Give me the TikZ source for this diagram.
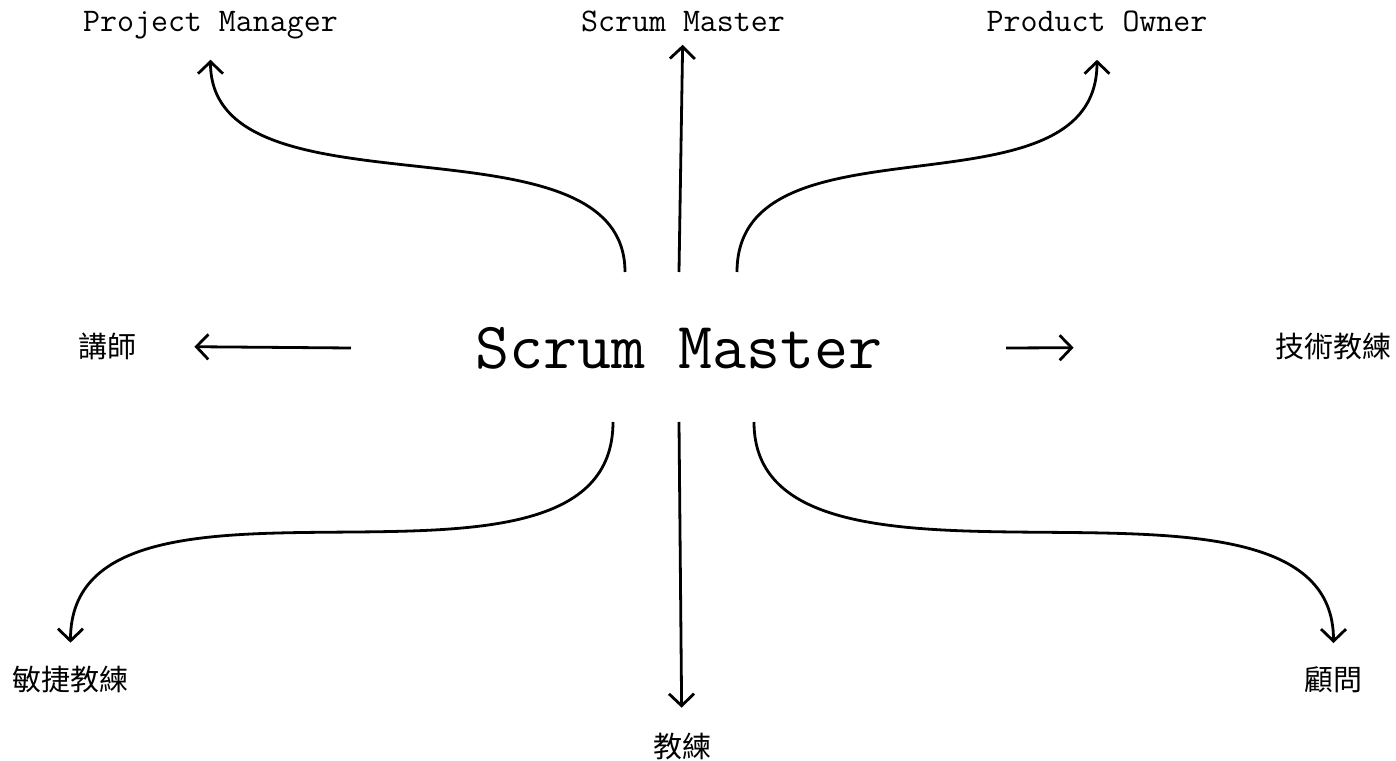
\documentclass[tikz,border=0pt]{standalone}
\usepackage{fontspec}
\newfontfamily\cjk{Noto Sans CJK TC}
\usetikzlibrary{arrows.meta}

\begin{document}
\begin{tikzpicture}[x=1pt,y=1pt,line width=2.8pt,>={Straight Barb[length=12pt,width=25pt]},
	role node/.style={inner sep=0pt, anchor=base, font=\fontsize{33}{33}\selectfont\ttfamily},
	zh node/.style={inner sep=0pt, font=\fontsize{29}{29}\selectfont\cjk}]
				\useasboundingbox (-679,-412) rectangle (717,348);
				
				\node[inner sep=0pt, font=\fontsize{66}{66}\selectfont\ttfamily] (sm) at (0,0) {Scrum Master};
				
				\node[role node] (pm) at (-468.5,316) {Project Manager};
				\node[role node] (sm2) at (4,316) {Scrum Master};
				\node[role node] (po) at (418,316) {Product Owner};
				
				\node[zh node] (lecturer) at (-571.5,2) {講師};
				\node[zh node] (techcoach) at (654.5,1.5) {技術教練};
				\node[zh node] (agilecoach) at (-608.5,-332) {敏捷教練};
				\node[zh node] (coach) at (3,-398) {教練};
				\node[zh node] (consultant) at (654.5,-332) {顧問};
				
				% free ends round the title
				\coordinate (t1) at (-54,76);
				\coordinate (t2) at (0,76);
				\coordinate (t3) at (58,76);
				\coordinate (l1) at (-328,0);
				\coordinate (r1) at (327,0);
				\coordinate (b1) at (-66,-74);
				\coordinate (b2) at (0,-74);
				\coordinate (b3) at (75,-74);
				
				\path[->]
				(t1) edge [out=90,in=-90,out distance=165pt,in distance=184pt,shorten >=18.8pt] (pm)
				(t2) edge [shorten >=11pt] (sm2)
				(t3) edge [out=90,in=-90,out distance=165pt,in distance=191pt,shorten >=26pt] (po)
				
				(l1) edge [shorten >=56.5pt] (lecturer)
				(r1) edge [shorten >=200.5pt] (techcoach)
				
				(b1) edge [out=-90,in=90,out distance=215pt,in distance=237pt,shorten >=22.5pt] (agilecoach)
				(b2) edge [shorten >=23.5pt] (coach)
				(b3) edge [out=-90,in=90,out distance=215pt,in distance=237pt,shorten >=22.5pt] (consultant);
				
\end{tikzpicture}
\end{document}
